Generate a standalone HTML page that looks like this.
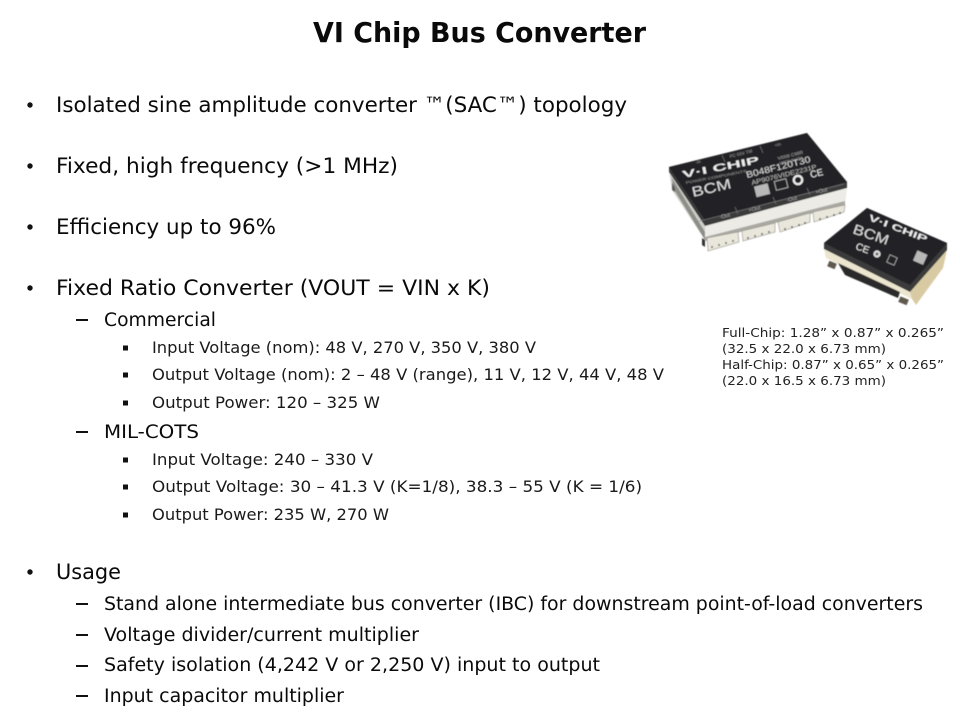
<!DOCTYPE html>
<html><head><meta charset="utf-8"><style>
html,body{margin:0;padding:0;background:#fff;width:960px;height:720px;overflow:hidden}
svg{display:block}
text{font-family:"DejaVu Sans","Liberation Sans",sans-serif;fill:#0a0a0a}
.l1{font-size:21px}.l2{font-size:18.5px}.l3{font-size:16px;fill:#1a1a1a}.c{font-size:12.2px;fill:#222}
.w{fill:#ddd;font-family:"Liberation Sans",sans-serif}
</style></head><body>
<svg width="960" height="720" viewBox="0 0 960 720" xmlns="http://www.w3.org/2000/svg">
<defs><filter id="b" x="-5%" y="-5%" width="110%" height="110%"><feGaussianBlur stdDeviation="0.45"/></filter></defs>
<text x="313" y="42" font-size="28" font-weight="700" textLength="333" lengthAdjust="spacingAndGlyphs">VI Chip Bus Converter</text>

<g fill="#111">
<circle cx="30" cy="105" r="2.7"/><circle cx="30" cy="166" r="2.7"/><circle cx="30" cy="227" r="2.7"/><circle cx="30" cy="288" r="2.7"/><circle cx="30" cy="572" r="2.7"/>
<rect x="76" y="319" width="12" height="2"/><rect x="76" y="431" width="12" height="2"/><rect x="76" y="603" width="12" height="2"/><rect x="76" y="634" width="12" height="2"/><rect x="76" y="665" width="12" height="2"/><rect x="76" y="695" width="12" height="2"/>
<rect x="123" y="345.5" width="5" height="5"/><rect x="123" y="372.5" width="5" height="5"/><rect x="123" y="400.5" width="5" height="5"/><rect x="123" y="457.5" width="5" height="5"/><rect x="123" y="484.5" width="5" height="5"/><rect x="123" y="512.5" width="5" height="5"/>
</g>

<text class="l1" x="56" y="112" textLength="571" lengthAdjust="spacingAndGlyphs">Isolated sine amplitude converter ™(SAC™) topology</text>
<text class="l1" x="56" y="173" textLength="342" lengthAdjust="spacingAndGlyphs">Fixed, high frequency (&gt;1 MHz)</text>
<text class="l1" x="56" y="234" textLength="220" lengthAdjust="spacingAndGlyphs">Efficiency up to 96%</text>
<text class="l1" x="56" y="295" textLength="434" lengthAdjust="spacingAndGlyphs">Fixed Ratio Converter (VOUT = VIN x K)</text>
<text class="l2" x="104" y="326" textLength="112" lengthAdjust="spacingAndGlyphs">Commercial</text>
<text class="l3" x="152" y="353" textLength="384" lengthAdjust="spacingAndGlyphs">Input Voltage (nom): 48 V, 270 V, 350 V, 380 V</text>
<text class="l3" x="152" y="380" textLength="512" lengthAdjust="spacingAndGlyphs">Output Voltage (nom): 2 – 48 V (range), 11 V, 12 V, 44 V, 48 V</text>
<text class="l3" x="152" y="408" textLength="228" lengthAdjust="spacingAndGlyphs">Output Power: 120 – 325 W</text>
<text class="l2" x="104" y="438" textLength="95" lengthAdjust="spacingAndGlyphs">MIL-COTS</text>
<text class="l3" x="152" y="465" textLength="221" lengthAdjust="spacingAndGlyphs">Input Voltage: 240 – 330 V</text>
<text class="l3" x="152" y="492" textLength="490" lengthAdjust="spacingAndGlyphs">Output Voltage: 30 – 41.3 V (K=1/8), 38.3 – 55 V (K = 1/6)</text>
<text class="l3" x="152" y="520" textLength="237" lengthAdjust="spacingAndGlyphs">Output Power: 235 W, 270 W</text>
<text class="l1" x="56" y="579" textLength="65" lengthAdjust="spacingAndGlyphs">Usage</text>
<text class="l2" x="104" y="610" textLength="819" lengthAdjust="spacingAndGlyphs">Stand alone intermediate bus converter (IBC) for downstream point-of-load converters</text>
<text class="l2" x="104" y="641" textLength="315" lengthAdjust="spacingAndGlyphs">Voltage divider/current multiplier</text>
<text class="l2" x="104" y="671" textLength="496" lengthAdjust="spacingAndGlyphs">Safety isolation (4,242 V or 2,250 V) input to output</text>
<text class="l2" x="104" y="702" textLength="240" lengthAdjust="spacingAndGlyphs">Input capacitor multiplier</text>

<text class="c" x="722" y="337" textLength="222" lengthAdjust="spacingAndGlyphs">Full-Chip:  1.28” x 0.87” x 0.265”</text>
<text class="c" x="722" y="353" textLength="164" lengthAdjust="spacingAndGlyphs">(32.5 x 22.0 x 6.73 mm)</text>
<text class="c" x="722" y="369" textLength="222" lengthAdjust="spacingAndGlyphs">Half-Chip:  0.87” x 0.65” x 0.265”</text>
<text class="c" x="722" y="385" textLength="164" lengthAdjust="spacingAndGlyphs">(22.0 x 16.5 x 6.73 mm)</text>

<g filter="url(#b)">
<!-- large chip -->
<polygon points="669,170 705,226 705,240 672,190" fill="#cfcfca"/>
<polygon points="672,178 705,232 705,240 673,188" fill="#8e8e89"/>
<polygon points="705,226 847,188 845,205 705,241" fill="#ecebe5"/>
<polygon points="705,237 845,201 845,205 705,241" fill="#a9a8a2"/>
<polygon points="669,167 807,133 847,182 847,188 705,226 669,172" fill="#3a3a3a"/>
<polygon points="669,167 807,133 847,182 705,220" fill="#232425"/>
<g fill="#e9e6db" stroke="#8f8c82" stroke-width=".6">
<polygon points="707,238 738,232 739,242 708,251"/>
<polygon points="742,231 775,223 775,232 743,241"/>
<polygon points="778,222 810,213 810,222 780,232"/>
<polygon points="813,212 845,205 844,212 814,222"/>
</g>
<g stroke="#55534c" stroke-width="1.4" fill="none">
<path d="M712 246v2M719 244v2M726 242v2M733 240v2M748 237v2M755 235v2M762 233v2M769 231v2M785 228v2M792 226v2M799 224v2M805 222v2M820 218v2M827 216v2M834 214v2M840 212v2"/>
</g>
<polygon points="702,238 705,240 705,247 702,245" fill="#333"/>
<polygon points="672,183 675,188 675,192 672,190" fill="#555"/>
<g stroke="#888" stroke-width=".5" fill="none">
<path d="M696 222L844 184M735 207l3 7M773 197l3 7M807 188l3 7M722 155l3 7M760 146l3 7"/>
</g>
<text class="w" x="683" y="178" font-size="10" font-weight="700" style="fill:#eee" textLength="78" lengthAdjust="spacingAndGlyphs" transform="rotate(-11 683 178)">V·I CHIP</text>
<text class="w" x="686" y="184" font-size="3.5" textLength="62" lengthAdjust="spacingAndGlyphs" style="fill:#999" transform="rotate(-11 686 184)">POWER COMPONENTS</text>
<text class="w" x="693" y="197" font-size="14" textLength="40" lengthAdjust="spacingAndGlyphs" style="fill:#ddd" transform="rotate(-13 693 197)">BCM</text>
<text class="w" x="747" y="178" font-size="9" textLength="66" lengthAdjust="spacingAndGlyphs" transform="rotate(-14 747 178)">B048F120T30</text>
<text class="w" x="752" y="185" font-size="6.5" textLength="67" lengthAdjust="spacingAndGlyphs" transform="rotate(-14 752 185)" style="fill:#bbb">AP9076VIDE2231P</text>
<text class="w" x="778" y="160" font-size="4.5" textLength="26" lengthAdjust="spacingAndGlyphs" transform="rotate(-14 778 160)" style="fill:#aaa">VI008 C98R</text>
<text class="w" x="780" y="165" font-size="4.5" textLength="24" lengthAdjust="spacingAndGlyphs" transform="rotate(-14 780 165)" style="fill:#aaa">MADE IN USA</text>
<text class="w" x="720" y="219" font-size="5.5" transform="rotate(-14 720 219)" style="fill:#aaa">-Out</text>
<text class="w" x="749" y="212" font-size="5.5" transform="rotate(-14 749 212)" style="fill:#aaa">+Out</text>
<text class="w" x="787" y="202" font-size="5.5" transform="rotate(-14 787 202)" style="fill:#aaa">-Out</text>
<text class="w" x="816" y="194" font-size="5.5" transform="rotate(-14 816 194)" style="fill:#aaa">+Out</text>
<text class="w" x="696" y="164" font-size="4.5" transform="rotate(-14 696 164)" style="fill:#999">-In</text>
<text class="w" x="730" y="158" font-size="4.5" transform="rotate(-14 730 158)" style="fill:#999">PC 65V TM</text>
<text class="w" x="775" y="147" font-size="4.5" transform="rotate(-14 775 147)" style="fill:#999">+In</text>
<rect x="755" y="185" width="14" height="11" fill="#b8b8b8" transform="rotate(-14 761 190)"/>
<rect x="775" y="180" width="12" height="9" fill="none" stroke="#bbb" stroke-width=".8" transform="rotate(-14 781 184)"/>
<circle cx="798" cy="180" r="4.2" fill="none" stroke="#eee" stroke-width="2.2"/>
<text class="w" x="811" y="178" font-size="9.5" style="fill:#eee" transform="rotate(-14 811 178)">CE</text>

<!-- small chip -->
<polygon points="824,249 910,292 912,299 826,258" fill="#ece5cf"/>
<polygon points="910,292 947,250 943,268 916,305 912,299" fill="#d8cba3"/>
<polygon points="838,263 900,292 898,298 845,275" fill="#2a2a29"/>
<polygon points="867,208 947,243 947,250 910,292 824,249 824,243" fill="#3a3a3a"/>
<polygon points="867,208 947,243 910,285 824,243" fill="#232425"/>
<rect x="828" y="262" width="8" height="6" fill="#5e5a4e" transform="rotate(22 832 265)"/>
<rect x="899" y="298" width="9" height="6" fill="#5e5a4e" transform="rotate(22 904 301)"/>
<text class="w" x="868" y="220" font-size="9" font-weight="700" style="fill:#eee" textLength="62" lengthAdjust="spacingAndGlyphs" transform="rotate(21 868 220)">V·I CHIP</text>
<text class="w" x="852" y="233" font-size="14" textLength="37" lengthAdjust="spacingAndGlyphs" style="fill:#ddd" transform="rotate(19 852 233)">BCM</text>
<text class="w" x="855" y="249" font-size="10" style="fill:#eee" transform="rotate(20 855 249)">CE</text>
<circle cx="877" cy="254" r="3.6" fill="#ddd"/>
<circle cx="877" cy="254" r="1.4" fill="#555"/>
<rect x="888" y="256" width="8" height="8" fill="none" stroke="#aaa" stroke-width=".8" transform="rotate(24 892 260)"/>
<rect x="915" y="252" width="11" height="11" fill="#b8b8b8" transform="rotate(24 920 257)"/>
</g>
</svg>
</body></html>
